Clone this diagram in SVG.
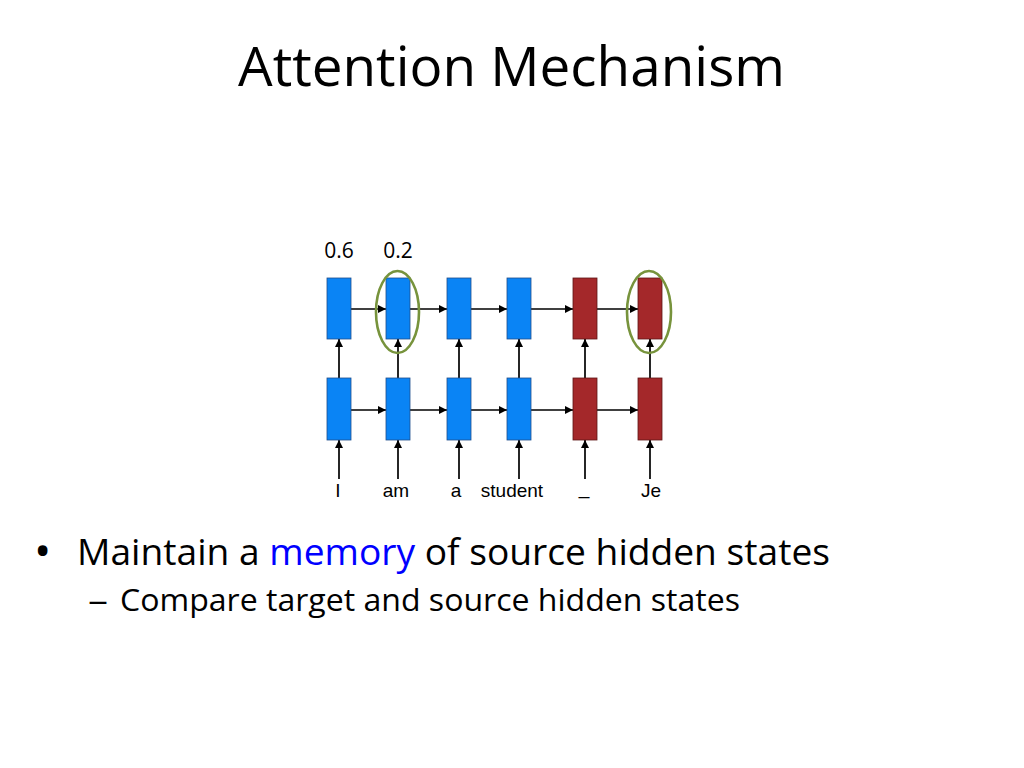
<svg xmlns="http://www.w3.org/2000/svg" width="1024" height="768" viewBox="0 0 1024 768">
<defs>
<marker id="ah" viewBox="0 0 10 10" refX="10" refY="5" markerWidth="10" markerHeight="8" markerUnits="userSpaceOnUse" orient="auto">
<path d="M0,0 L10,5 L0,10 Z" fill="#000"/>
</marker>
<style>
.enc{fill:#0A84F5;stroke:#1F4E8C;stroke-width:0.8}
.dec{fill:#A4282A;stroke:#5E1616;stroke-width:0.8}
.c{stroke:#000;stroke-width:1.7;fill:none;marker-end:url(#ah)}
.hl{fill:none;stroke:#77933C;stroke-width:2.6}
.lbl{font-family:"Liberation Sans",Arial,sans-serif;font-size:19px;fill:#000;text-anchor:middle}
.w{font-family:"Open Sans","Noto Sans",sans-serif;font-size:21px;fill:#000;text-anchor:middle}
.t{font-family:"Open Sans","Noto Sans",sans-serif;fill:#000}
</style>
</defs>
<rect width="1024" height="768" fill="#fff"/>
<text class="t" x="238" y="86" font-size="54" textLength="547" lengthAdjust="spacingAndGlyphs">Attention Mechanism</text>

<g id="weights">
<text class="w" x="339" y="258">0.6</text>
<text class="w" x="398" y="258">0.2</text>
</g>

<g id="connectors">
<line class="c" x1="351" y1="309" x2="386" y2="309"/>
<line class="c" x1="410" y1="309" x2="447" y2="309"/>
<line class="c" x1="471" y1="309" x2="507" y2="309"/>
<line class="c" x1="531" y1="309" x2="573" y2="309"/>
<line class="c" x1="597" y1="309" x2="638" y2="309"/>
<line class="c" x1="351" y1="410" x2="386" y2="410"/>
<line class="c" x1="410" y1="410" x2="447" y2="410"/>
<line class="c" x1="471" y1="410" x2="507" y2="410"/>
<line class="c" x1="531" y1="410" x2="573" y2="410"/>
<line class="c" x1="597" y1="410" x2="638" y2="410"/>
<line class="c" x1="339" y1="378" x2="339" y2="339"/>
<line class="c" x1="398" y1="378" x2="398" y2="339"/>
<line class="c" x1="459" y1="378" x2="459" y2="339"/>
<line class="c" x1="519" y1="378" x2="519" y2="339"/>
<line class="c" x1="585" y1="378" x2="585" y2="339"/>
<line class="c" x1="650" y1="378" x2="650" y2="339"/>
<line class="c" x1="339" y1="479" x2="339" y2="440"/>
<line class="c" x1="398" y1="479" x2="398" y2="440"/>
<line class="c" x1="459" y1="479" x2="459" y2="440"/>
<line class="c" x1="519" y1="479" x2="519" y2="440"/>
<line class="c" x1="585" y1="479" x2="585" y2="440"/>
<line class="c" x1="650" y1="479" x2="650" y2="440"/>
</g>

<g id="top-layer">
<rect id="t1" class="enc" x="327" y="278" width="24" height="61"/>
<rect id="t2" class="enc" x="386" y="278" width="24" height="61"/>
<rect id="t3" class="enc" x="447" y="278" width="24" height="61"/>
<rect id="t4" class="enc" x="507" y="278" width="24" height="61"/>
<rect id="t5" class="dec" x="573" y="278" width="24" height="61"/>
<rect id="t6" class="dec" x="638" y="278" width="24" height="61"/>
</g>
<g id="bottom-layer">
<rect id="b1" class="enc" x="327" y="378" width="24" height="62"/>
<rect id="b2" class="enc" x="386" y="378" width="24" height="62"/>
<rect id="b3" class="enc" x="447" y="378" width="24" height="62"/>
<rect id="b4" class="enc" x="507" y="378" width="24" height="62"/>
<rect id="b5" class="dec" x="573" y="378" width="24" height="62"/>
<rect id="b6" class="dec" x="638" y="378" width="24" height="62"/>
</g>

<g id="highlights">
<ellipse class="hl" cx="397.5" cy="312" rx="21.5" ry="41"/>
<ellipse class="hl" cx="649" cy="312" rx="22" ry="41"/>
</g>

<g id="inputs">
<text class="lbl" x="338" y="497">I</text>
<text class="lbl" x="396" y="497">am</text>
<text class="lbl" x="456" y="497">a</text>
<text class="lbl" x="512" y="497">student</text>
<text class="lbl" x="584" y="494">_</text>
<text class="lbl" x="651" y="497">Je</text>
</g>

<g id="bullets">
<text class="t" x="34" y="567" font-size="46">•</text>
<text class="t" x="77" y="565" font-size="36" textLength="753" lengthAdjust="spacingAndGlyphs">Maintain a <tspan fill="#0000FF">memory</tspan> of source hidden states</text>
<text class="t" x="88" y="611" font-size="31" textLength="20" lengthAdjust="spacingAndGlyphs">–</text>
<text class="t" x="120" y="611" font-size="31" textLength="620" lengthAdjust="spacingAndGlyphs">Compare target and source hidden states</text>
</g>
</svg>
